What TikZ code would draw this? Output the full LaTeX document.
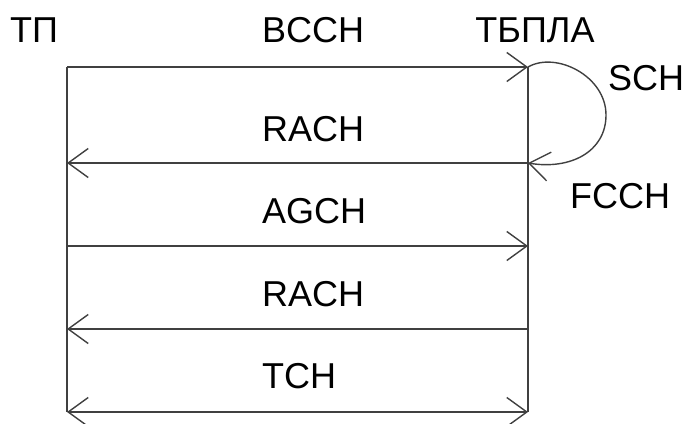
\documentclass[tikz,border=0pt]{standalone}
\usepackage{fontspec}
\setmainfont{Liberation Sans}
\usetikzlibrary{arrows.meta}
\begin{document}
\begin{tikzpicture}[x=1pt,y=-1pt,
  wire/.style={line width=1.4pt,draw=black!75},
  msg/.style={wire,-{Straight Barb[length=20pt,width=29pt,line width=1.4pt]}},
  both/.style={wire,{Straight Barb[length=20pt,width=29pt,line width=1.4pt]}-{Straight Barb[length=20pt,width=29pt,line width=1.4pt]}},
  lbl/.style={inner sep=0pt,font=\fontsize{36}{40}\selectfont,anchor=base}]
\useasboundingbox (0,0) rectangle (688,423);
% endpoints
\coordinate (a0) at (67,67);   \coordinate (b0) at (528,67);
\coordinate (a1) at (67,163);  \coordinate (b1) at (528,163);
\coordinate (a2) at (67,246);  \coordinate (b2) at (528,246);
\coordinate (a3) at (67,329);  \coordinate (b3) at (528,329);
\coordinate (a4) at (67,412);  \coordinate (b4) at (528,412);
\coordinate (loopr) at (606,115);
% vertical lifelines
\draw[wire] (a0) -- (a4);
\draw[wire] (b0) -- (b4);
% messages
\draw[msg] (a0) -- (b0);
\draw[msg] (b1) -- (a1);
\draw[msg] (a2) -- (b2);
\draw[msg] (b3) -- (a3);
\draw[both] (a4) -- (b4);
\draw[msg] (b0) .. controls (556,51) and (606,76) .. (loopr)
               .. controls (606,152) and (570,170) .. (b1);
% labels
\node[lbl] (tp) at (34,42) {ТП};
\node[lbl,anchor=base west] (bcch) at (262,42) {BCCH};
\node[lbl] (tbpla) at (535,42) {ТБПЛА};
\node[lbl,anchor=base west] (sch) at (608,90) {SCH};
\node[lbl,anchor=base west] (fcch) at (570,208) {FCCH};
\node[lbl,anchor=base west] (rach1) at (262,141) {RACH};
\node[lbl,anchor=base west] (agch) at (262,223) {AGCH};
\node[lbl,anchor=base west] (rach2) at (262,306) {RACH};
\node[lbl,anchor=base west] (tch) at (262,388) {TCH};
\end{tikzpicture}
\end{document}
